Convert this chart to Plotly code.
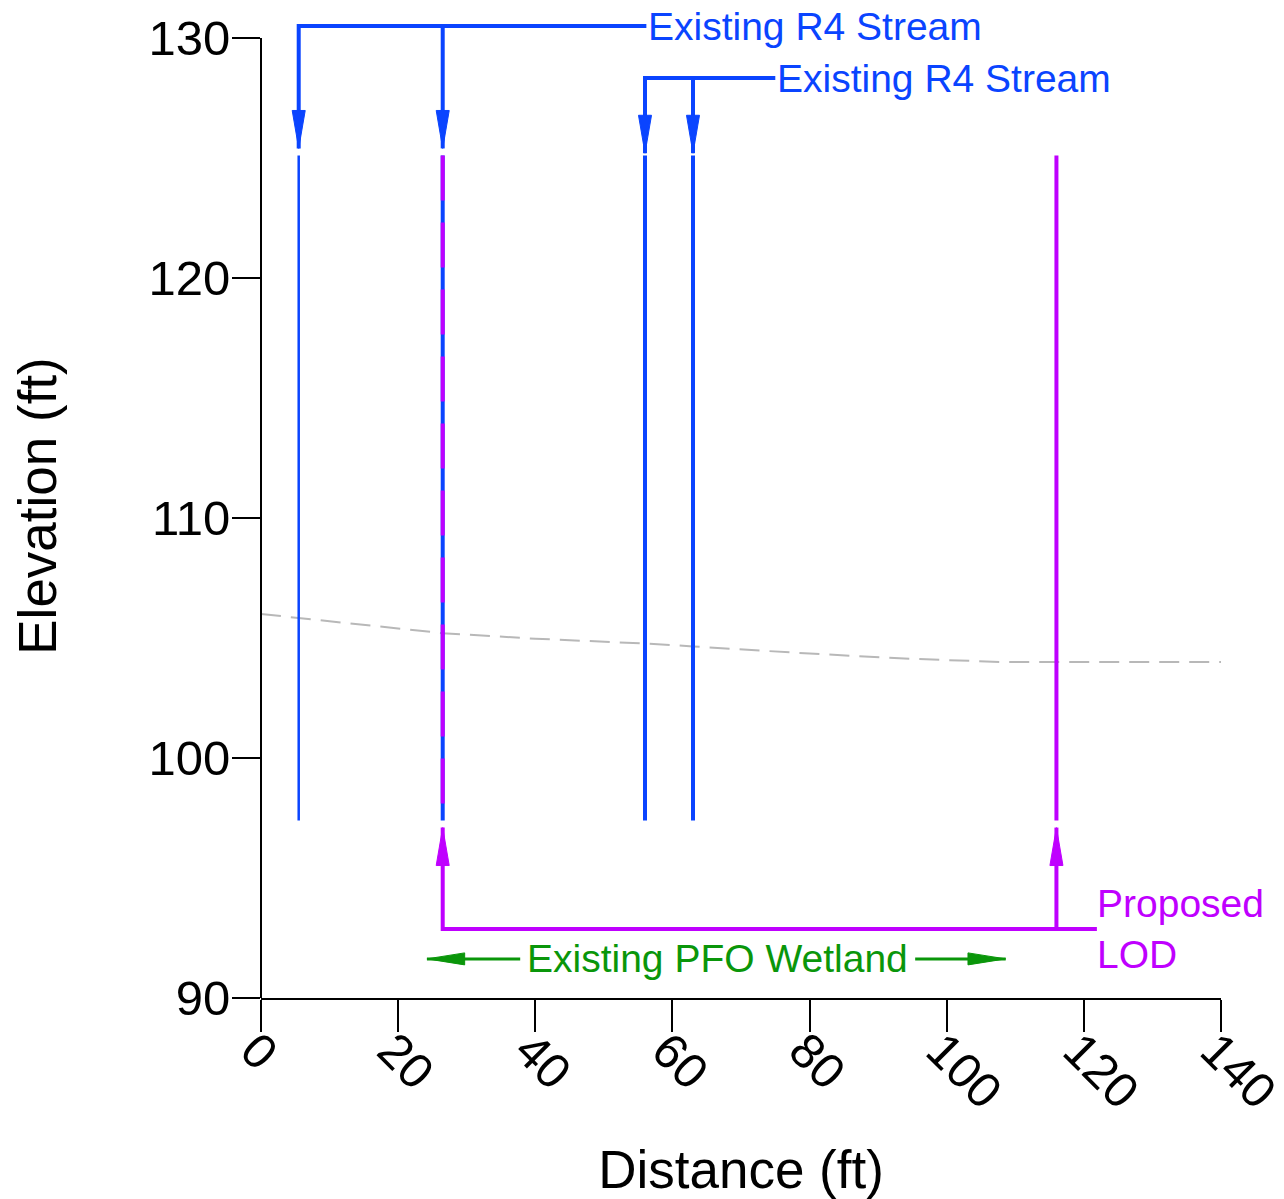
import plotly.graph_objects as go

# ---------------- data ----------------
stream_x = [5.5, 26.5, 56, 63]          # existing R4 stream boundaries (ft)
stream_widths = [2.5, 4, 4, 4]
lod_x = [26.5, 116]                     # proposed LOD boundaries (ft)
line_top = 125.1
line_bottom = 97.4

ground_x = [0, 13, 26.5, 40, 56, 63, 80, 95, 108, 140]
ground_y = [106.0, 105.6, 105.2, 104.97, 104.77, 104.65, 104.35, 104.13, 104.0, 104.0]

# leader geometry (data units)
bracket1_y = 130.5
bracket1_tip = 125.4
bracket1_end_x = 56.2
bracket2_y = 128.33
bracket2_tip = 125.2
bracket2_end_x = 75.0
lod_bracket_y = 92.88
lod_tip = 97.1
lod_end_x = 121.9
wet_y = 91.63
wet_left = [37.8, 24.2]
wet_right = [95.4, 108.6]

label_stream = "Existing R4 Stream"
label_wetland = "Existing PFO Wetland"
label_lod = "Proposed<br>LOD"

x_ticks = [0, 20, 40, 60, 80, 100, 120, 140]
y_ticks = [90, 100, 110, 120, 130]
y_axis_span = [90, 130]

# ---------------- styles ----------------
BLUE = "#0A44FF"
PURPLE = "#BF00FF"
GREEN = "#0A960A"
GRAY = "#B8B8B8"
FONT = "Liberation Sans, Arial, sans-serif"
HEAD_LEN_Y = 1.58   # arrowhead length in elevation units
HEAD_HW_X = 0.95    # arrowhead half width in distance units
HEAD_LEN_X = 5.5
HEAD_HW_Y = 0.25

fig = go.Figure()

def line(xs, ys, color, width, dash="solid"):
    fig.add_trace(go.Scatter(x=xs, y=ys, mode="lines",
                             line=dict(color=color, width=width, dash=dash),
                             hoverinfo="skip", showlegend=False))

def head_v(x, tip, down, color):
    base = tip + HEAD_LEN_Y if down else tip - HEAD_LEN_Y
    fig.add_trace(go.Scatter(x=[x - HEAD_HW_X, x + HEAD_HW_X, x, x - HEAD_HW_X],
                             y=[base, base, tip, base], mode="lines", fill="toself",
                             fillcolor=color, line=dict(color=color, width=1),
                             hoverinfo="skip", showlegend=False))

def head_h(tipx, y, left, color):
    base = tipx + HEAD_LEN_X if left else tipx - HEAD_LEN_X
    fig.add_trace(go.Scatter(x=[base, base, tipx, base],
                             y=[y - HEAD_HW_Y, y + HEAD_HW_Y, y, y - HEAD_HW_Y],
                             mode="lines", fill="toself",
                             fillcolor=color, line=dict(color=color, width=1),
                             hoverinfo="skip", showlegend=False))

# ground line
line(ground_x, ground_y, GRAY, 2, "20px,10px")

# stream boundaries
for sx, w in zip(stream_x, stream_widths):
    line([sx, sx], [line_top, line_bottom], BLUE, w)

# LOD boundaries (dashed over stream at shared location)
line([lod_x[0], lod_x[0]], [line_top, line_bottom], PURPLE, 4, "45px,22px")
line([lod_x[1], lod_x[1]], [line_top, line_bottom], PURPLE, 4)

# stream leader 1
line([stream_x[0], stream_x[0], bracket1_end_x], [bracket1_tip, bracket1_y, bracket1_y], BLUE, 4)
line([stream_x[1], stream_x[1]], [bracket1_y, bracket1_tip], BLUE, 4)
head_v(stream_x[0], bracket1_tip, True, BLUE)
head_v(stream_x[1], bracket1_tip, True, BLUE)

# stream leader 2
line([stream_x[2], stream_x[2], bracket2_end_x], [bracket2_tip, bracket2_y, bracket2_y], BLUE, 4)
line([stream_x[3], stream_x[3]], [bracket2_y, bracket2_tip], BLUE, 4)
head_v(stream_x[2], bracket2_tip, True, BLUE)
head_v(stream_x[3], bracket2_tip, True, BLUE)

# LOD leader
line([lod_x[0], lod_x[0], lod_end_x], [lod_tip, lod_bracket_y, lod_bracket_y], PURPLE, 4)
line([lod_x[1], lod_x[1]], [lod_bracket_y, lod_tip], PURPLE, 4)
head_v(lod_x[0], lod_tip, False, PURPLE)
head_v(lod_x[1], lod_tip, False, PURPLE)

# wetland arrows
line(wet_left, [wet_y, wet_y], GREEN, 3)
line(wet_right, [wet_y, wet_y], GREEN, 3)
head_h(wet_left[1], wet_y, True, GREEN)
head_h(wet_right[1], wet_y, False, GREEN)

ann_font = dict(family=FONT, size=39)
fig.add_annotation(x=bracket1_end_x, y=bracket1_y, text=label_stream, showarrow=False,
                   xanchor="left", yanchor="middle", font=dict(ann_font, color=BLUE))
fig.add_annotation(x=bracket2_end_x, y=bracket2_y, text=label_stream, showarrow=False,
                   xanchor="left", yanchor="middle", font=dict(ann_font, color=BLUE))
fig.add_annotation(x=(wet_left[0] + wet_right[0]) / 2, y=wet_y, text=label_wetland,
                   showarrow=False, xanchor="center", yanchor="middle",
                   font=dict(ann_font, color=GREEN))
fig.add_annotation(x=lod_end_x - 0.3, y=lod_bracket_y, text=label_lod, showarrow=False,
                   xanchor="left", yanchor="middle", align="left",
                   font=dict(ann_font, color=PURPLE))

# y axis line only spanning 90..130
fig.add_shape(type="line", xref="paper", yref="y", x0=0, x1=0,
              y0=y_axis_span[0], y1=y_axis_span[1], line=dict(color="black", width=2))

axis_common = dict(showgrid=False, zeroline=False, linecolor="black",
                   linewidth=2, ticks="outside", tickwidth=2, tickcolor="black",
                   automargin=False,
                   tickfont=dict(family=FONT, size=49, color="black"))

fig.update_xaxes(range=[0, 140], tickvals=x_ticks, ticklen=32, tickangle=45,
                 showline=True, ticklabeloverflow="allow", ticklabelshift=-6,
                 ticklabelstandoff=-30,
                 title=dict(text="Distance (ft)", font=dict(family=FONT, size=53, color="black"),
                            standoff=57),
                 **axis_common)
fig.update_yaxes(range=[90, 131], tickvals=y_ticks, ticklen=28, showline=False,
                 ticklabelstandoff=-8,
                 title=dict(text="Elevation (ft)", font=dict(family=FONT, size=53, color="black"),
                            standoff=77),
                 **axis_common)

fig.update_layout(width=1276, height=1191, plot_bgcolor="white", paper_bgcolor="white",
                  margin=dict(l=253, r=63, t=6, b=201), showlegend=False)

fig.write_html("out.html")
